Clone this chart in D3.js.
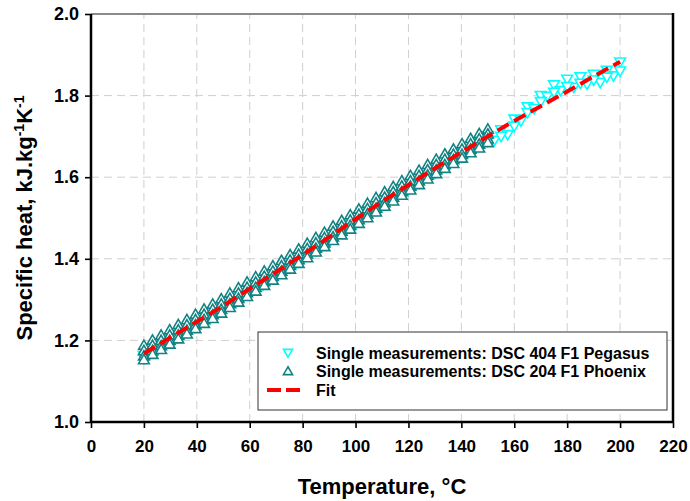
<!DOCTYPE html>
<html><head><meta charset="utf-8">
<script src="https://cdn.jsdelivr.net/npm/d3@7"></script>
<style>body{margin:0;background:#fff}svg{display:block;font-family:"Liberation Sans",Arial,sans-serif}</style>
</head><body><svg id="c" width="690" height="501"></svg>
<script>
const xTickValues = [0,20,40,60,80,100,120,140,160,180,200,220];
const yTickValues = [1.0,1.2,1.4,1.6,1.8,2.0];
const xTitle = "Temperature, °C";
const legendLabels = ["Single measurements: DSC 404 F1 Pegasus","Single measurements: DSC 204 F1 Phoenix","Fit"];

// Fit curve
const fitT  = [20,30,40,50,60,70,80,90,100,110,120,130,140,150,160,170,180,190,200];
const fitCp = [1.168,1.207,1.246,1.285,1.327,1.368,1.410,1.453,1.497,1.540,1.581,1.622,1.661,1.700,1.738,1.774,1.810,1.847,1.883];

// DSC 404 F1 Pegasus (cyan, down triangles)
const pegT1 = [20,25,30,35,40,45,50,55,60,65,70,75,80,85,90,95,100,105,110,115,120,125,130,135,140,145,150,155,160,165,170,175,180,185,190,195,200];
const pegCp1 = [1.162,1.182,1.202,1.222,1.241,1.261,1.280,1.301,1.322,1.342,1.363,1.384,1.405,1.426,1.448,1.470,1.492,1.513,1.535,1.556,1.577,1.598,1.620,1.641,1.662,1.684,1.702,1.716,1.742,1.772,1.800,1.826,1.840,1.846,1.852,1.862,1.882];
const pegT2 = [22.5,27.5,32.5,37.5,42.5,47.5,52.5,57.5,62.5,67.5,72.5,77.5,82.5,87.5,92.5,97.5,102.5,107.5,112.5,117.5,122.5,127.5,132.5,137.5,142.5,147.5,152.5,157.5,162.5,167.5,172.5,177.5,182.5,187.5,192.5,197.5];
const pegCp2 = [1.168,1.188,1.207,1.227,1.246,1.266,1.286,1.306,1.327,1.348,1.369,1.390,1.411,1.432,1.454,1.476,1.497,1.519,1.540,1.561,1.581,1.602,1.622,1.642,1.662,1.680,1.690,1.704,1.738,1.768,1.798,1.812,1.820,1.828,1.832,1.848];
const pegT3 = [20,25,30,35,40,45,50,55,60,65,70,75,80,85,90,95,100,105,110,115,120,125,130,135,140,145,150,155,160,165,170,175,180,185,190,195,200];
const pegCp3 = [1.156,1.176,1.196,1.215,1.235,1.254,1.274,1.294,1.315,1.336,1.356,1.377,1.398,1.419,1.441,1.463,1.485,1.506,1.528,1.548,1.569,1.589,1.610,1.629,1.649,1.668,1.688,1.700,1.725,1.758,1.785,1.808,1.822,1.830,1.838,1.845,1.860];

// DSC 204 F1 Phoenix (teal, up triangles) - four runs on a shared temperature grid
const phxT = [20,23.25,26.5,29.75,33,36.25,39.5,42.75,46,49.25,52.5,55.75,59,62.25,65.5,68.75,72,75.25,78.5,81.75,85,88.25,91.5,94.75,98,101.25,104.5,107.75,111,114.25,117.5,120.75,124,127.25,130.5,133.75,137,140.25,143.5,146.75,150];
const phxCp1 = [1.188,1.201,1.213,1.226,1.239,1.251,1.264,1.277,1.289,1.302,1.316,1.329,1.343,1.356,1.370,1.383,1.396,1.410,1.424,1.438,1.452,1.465,1.480,1.494,1.508,1.522,1.536,1.550,1.564,1.577,1.591,1.604,1.617,1.631,1.644,1.657,1.669,1.682,1.695,1.707,1.718];
const phxCp2 = [1.175,1.188,1.200,1.213,1.226,1.238,1.251,1.264,1.276,1.289,1.303,1.316,1.330,1.343,1.357,1.370,1.383,1.397,1.411,1.425,1.439,1.452,1.467,1.481,1.495,1.509,1.523,1.537,1.551,1.564,1.578,1.591,1.604,1.618,1.631,1.644,1.656,1.669,1.682,1.694,1.706];
const phxCp3 = [1.162,1.175,1.187,1.200,1.213,1.225,1.238,1.251,1.263,1.276,1.290,1.303,1.317,1.330,1.344,1.357,1.370,1.384,1.398,1.412,1.426,1.439,1.454,1.468,1.482,1.496,1.510,1.524,1.538,1.551,1.565,1.578,1.591,1.605,1.618,1.631,1.643,1.656,1.669,1.681,1.694];
const phxCp4 = [1.153,1.166,1.178,1.191,1.204,1.216,1.229,1.242,1.254,1.267,1.281,1.294,1.308,1.321,1.335,1.348,1.361,1.375,1.389,1.403,1.417,1.430,1.445,1.459,1.473,1.487,1.501,1.515,1.529,1.542,1.556,1.569,1.582,1.596,1.609,1.622,1.634,1.647,1.660,1.672,1.685];

const CYAN = "#00ffff", TEAL = "#128282", RED = "#ff0000";

const svg = d3.select("#c");
const x = d3.scaleLinear().domain([0,220]).range([91,673]);
const y = d3.scaleLinear().domain([1.0,2.0]).range([422,14]);

// grid
const grid = svg.append("g").attr("stroke","#cfcfcf").attr("stroke-width",1).attr("stroke-dasharray","8,5");
grid.selectAll("line.v").data(xTickValues.slice(1,-1)).join("line")
  .attr("x1",d=>x(d)).attr("x2",d=>x(d)).attr("y1",y(1)).attr("y2",y(2));
grid.selectAll("line.h").data(yTickValues.slice(1,-1)).join("line")
  .attr("x1",x(0)).attr("x2",x(220)).attr("y1",d=>y(d)).attr("y2",d=>y(d));

// frame top and right
svg.append("line").attr("x1",x(0)).attr("x2",x(220)).attr("y1",y(2)).attr("y2",y(2))
  .attr("stroke","#8a8a8a").attr("stroke-width",2);
svg.append("line").attr("x1",x(220)).attr("x2",x(220)).attr("y1",y(2)-1).attr("y2",y(1))
  .attr("stroke","#000").attr("stroke-width",2.5);

// markers
const up = d3.symbol().type(d3.symbolTriangle).size(50);
function series(T, V, color, down){
  const pts = T.map((t,i)=>[t,V[i]]);
  svg.append("g").selectAll("path").data(pts).join("path")
    .attr("d", up())
    .attr("transform", d=>`translate(${x(d[0])},${y(d[1]) + (down? -1 : 1)})${down?" rotate(180)":""}`)
    .attr("fill","#fff").attr("stroke",color).attr("stroke-width",1.6);
}
series(pegT1,pegCp1,CYAN,true);
series(pegT2,pegCp2,CYAN,true);
series(pegT3,pegCp3,CYAN,true);
series(phxT,phxCp1,TEAL,false);
series(phxT,phxCp2,TEAL,false);
series(phxT,phxCp3,TEAL,false);
series(phxT,phxCp4,TEAL,false);

// fit line
svg.append("path")
  .datum(fitT.map((t,i)=>[t,fitCp[i]]))
  .attr("d", d3.line().x(d=>x(d[0])).y(d=>y(d[1])).curve(d3.curveMonotoneX))
  .attr("fill","none").attr("stroke",RED).attr("stroke-width",4).attr("stroke-dasharray","13,6");

// axes
const xAxis = svg.append("g").attr("transform",`translate(0,${y(1)})`)
  .call(d3.axisBottom(x).tickValues(xTickValues).tickSize(6).tickPadding(12).tickFormat(d3.format("d")));
const yAxis = svg.append("g").attr("transform",`translate(${x(0)},0)`)
  .call(d3.axisLeft(y).tickValues(yTickValues).tickSize(6).tickPadding(6).tickFormat(d3.format(".1f")));
[xAxis,yAxis].forEach(a=>{
  a.select(".domain").attr("stroke","#000").attr("stroke-width",2.5);
  a.selectAll(".tick line").attr("stroke","#000").attr("stroke-width",1.6);
  a.selectAll(".tick text").attr("fill","#000").style("font-size","17px").style("font-weight","bold")
   .style("font-family","'Liberation Sans',Arial,sans-serif");
});
yAxis.selectAll(".tick text").style("font-size","18px");
xAxis.select(".domain").attr("d",`M${x(0)},0H${x(220)}`);
yAxis.select(".domain").attr("d",`M0,${y(1)}V${y(2)}`);

// axis titles
svg.append("text").attr("x",(x(0)+x(220))/2).attr("y",494).attr("text-anchor","middle")
  .style("font-size","22px").style("font-weight","bold").text(xTitle);
const yt = svg.append("text").attr("transform",`translate(32,${(y(1)+y(2))/2}) rotate(-90)`)
  .attr("text-anchor","middle").style("font-size","22px").style("font-weight","bold");
yt.append("tspan").text("Specific heat, kJ.kg");
yt.append("tspan").attr("baseline-shift","super").style("font-size","14px").text("-1");
yt.append("tspan").text("K");
yt.append("tspan").attr("baseline-shift","super").style("font-size","14px").text("-1");

// legend
const lg = svg.append("g");
lg.append("rect").attr("x",258).attr("y",332).attr("width",409).attr("height",78)
  .attr("fill","#fff").attr("stroke","#333").attr("stroke-width",1);
const rowsY = [353,371,390];
lg.append("path").attr("d",up.size(36)()).attr("transform",`translate(288,${rowsY[0]-1}) rotate(180)`)
  .attr("fill","#fff").attr("stroke",CYAN).attr("stroke-width",1.6);
lg.append("path").attr("d",up.size(36)()).attr("transform",`translate(288,${rowsY[1]+1})`)
  .attr("fill","#fff").attr("stroke",TEAL).attr("stroke-width",1.6);
lg.append("line").attr("x1",267).attr("x2",300).attr("y1",rowsY[2]).attr("y2",rowsY[2])
  .attr("stroke",RED).attr("stroke-width",4).attr("stroke-dasharray","14,5");
lg.selectAll("text").data(legendLabels).join("text")
  .attr("x",316).attr("y",(d,i)=>rowsY[i]).attr("dy","0.36em")
  .style("font-size","16px").style("font-weight","bold").text(d=>d);
</script></body></html>
